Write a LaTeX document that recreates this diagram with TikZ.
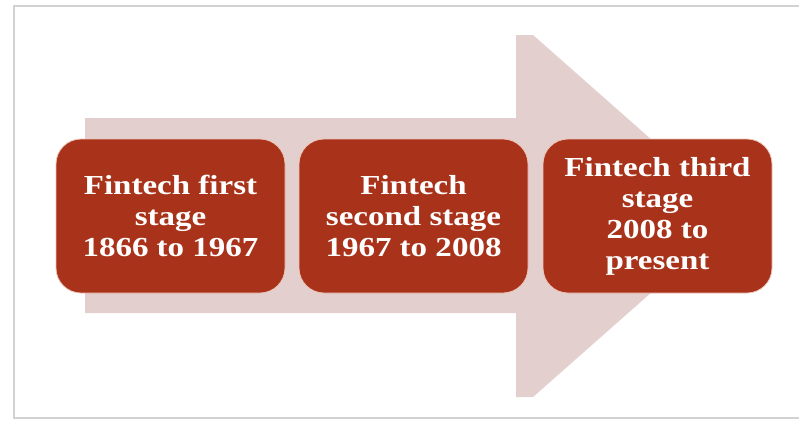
\documentclass[tikz,border=0pt]{standalone}
\usepackage{fontspec}
\newfontfamily\stagefont[FakeStretch=1.2]{Liberation Serif}
\definecolor{framegray}{RGB}{210,210,210}
\definecolor{arrowpink}{RGB}{228,207,207}
\definecolor{stagered}{RGB}{168,51,26}
\definecolor{stageedge}{RGB}{236,196,184}

\begin{document}
\begin{tikzpicture}[x=1pt,y=-1pt]
\tikzstyle{stagebox}=[rectangle, rounded corners=25pt, fill=stagered, draw=stageedge, line width=0.8pt,
  minimum width=229pt, minimum height=154pt, align=center, text=white,
  font=\stagefont\bfseries\fontsize{27.5}{31}\selectfont]
\useasboundingbox (0,0) rectangle (799,421);
% frame
\draw[framegray, line width=1.8pt] (799,6) -- (14,6) -- (14,418) -- (799,418);
% background arrow
\fill[arrowpink] (85,118) -- (516,118) -- (516,35) -- (533,35) -- (738,216)
  -- (533,397) -- (516,397) -- (516,313) -- (85,313) -- cycle;
% stages
\node (s1) [stagebox] at (170.5,216) {Fintech first\\stage\\1866 to 1967};
\node (s2) [stagebox] at (413.5,216) {Fintech\\second stage\\1967 to 2008};
\node (s3) [stagebox] at (657.5,216) {Fintech third\\stage\\2008 to\\present};
\end{tikzpicture}
\end{document}
